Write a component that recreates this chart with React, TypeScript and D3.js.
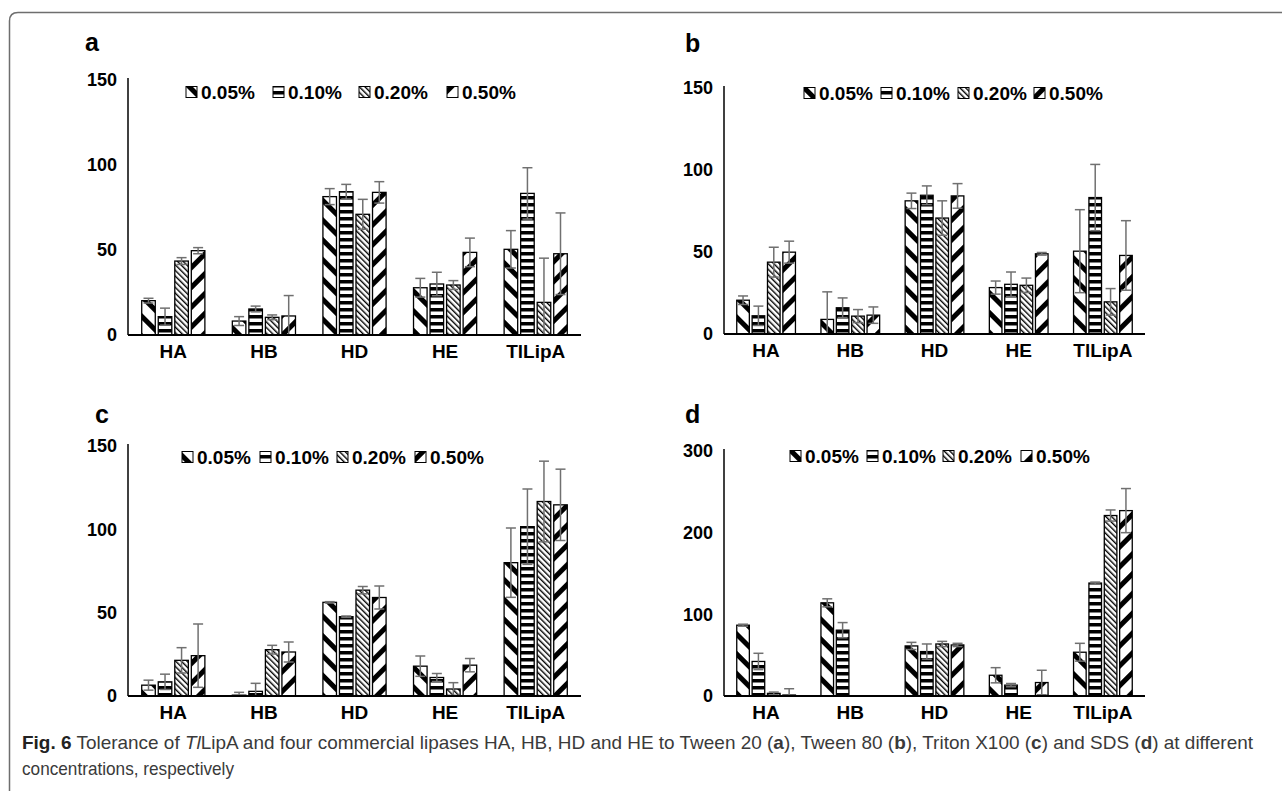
import React from "react";
import * as d3 from "d3";

const categories = ["HA", "HB", "HD", "HE", "TlLipA"];
const seriesNames = ["0.05%", "0.10%", "0.20%", "0.50%"];

// values[category][series]
const tween20Values = [
  [20.2, 10.8, 43.5, 49.6],
  [8.2, 15.3, 10.4, 11.2],
  [81.4, 84.3, 71.0, 83.9],
  [27.8, 30.0, 29.4, 48.6],
  [50.4, 83.3, 19.2, 47.8],
];
const tween20Errors = [
  [1.4, 5.0, 2.0, 1.8],
  [2.6, 1.7, 1.4, 12.0],
  [4.7, 4.3, 8.8, 6.3],
  [5.5, 6.9, 2.6, 8.4],
  [11.0, 15.1, 26.0, 24.0],
];
const tween80Values = [
  [20.6, 11.1, 43.8, 49.9],
  [8.9, 16.0, 10.9, 11.5],
  [81.2, 84.6, 70.7, 84.2],
  [28.3, 30.3, 29.7, 48.9],
  [50.5, 83.2, 19.6, 47.9],
];
const tween80Errors = [
  [2.6, 5.9, 9.1, 6.7],
  [16.8, 6.0, 4.0, 5.0],
  [4.7, 5.7, 10.5, 7.5],
  [4.0, 7.5, 4.4, 0.8],
  [25.3, 20.2, 8.1, 21.2],
];
const tritonValues = [
  [6.5, 8.5, 21.4, 24.2],
  [0.5, 2.8, 27.8, 26.4],
  [56.2, 47.6, 63.5, 59.1],
  [17.9, 11.1, 4.2, 18.5],
  [80.0, 101.6, 116.7, 114.7],
];
const tritonErrors = [
  [3.0, 4.6, 7.6, 19.0],
  [1.7, 4.8, 2.6, 6.0],
  [0.4, 0.4, 2.2, 6.9],
  [6.1, 2.4, 3.8, 4.0],
  [20.8, 22.6, 24.2, 21.4],
];
const sdsValues = [
  [86.7, 42.3, 3.2, 1.2],
  [114.1, 80.6, 0, 0],
  [61.3, 54.4, 63.7, 62.5],
  [25.4, 13.3, 0, 16.5],
  [53.6, 138.3, 221.0, 227.0],
];
const sdsErrors = [
  [1.2, 10.0, 1.6, 7.7],
  [4.9, 9.3, 0, 0],
  [4.4, 9.3, 3.2, 2.0],
  [9.3, 2.0, 0, 15.0],
  [10.9, 1.2, 6.8, 27.0],
];

const ticks150 = [0, 50, 100, 150];
const ticks300 = [0, 100, 200, 300];

const panels = [
  { key: "a", values: tween20Values, errors: tween20Errors, ticks: ticks150, ax: 128, xEnd: 581, top: 80, base: 335, legendY: 92, legendX: [186, 273, 359, 447], letterX: 85, letterY: 51 },
  { key: "b", values: tween80Values, errors: tween80Errors, ticks: ticks150, ax: 724, xEnd: 1145, top: 88, base: 334, legendY: 93, legendX: [804, 881, 958, 1034], letterX: 685, letterY: 52 },
  { key: "c", values: tritonValues, errors: tritonErrors, ticks: ticks150, ax: 128, xEnd: 581, top: 446, base: 696, legendY: 457, legendX: [182, 260, 337, 415], letterX: 95, letterY: 423 },
  { key: "d", values: sdsValues, errors: sdsErrors, ticks: ticks300, ax: 724, xEnd: 1145, top: 451, base: 696, legendY: 456, legendX: [790, 867, 943, 1021], letterX: 685, letterY: 423 },
];

const patternIds = ["pWideDown", "pHoriz", "pNarrowDown", "pWideUp"];
const BOLD = "'Liberation Sans', Arial, sans-serif";
const NARROW = "'Liberation Sans Narrow', 'Liberation Sans', Arial, sans-serif";

function Panel({ p }: { p: any }) {
  const yMax = p.ticks[p.ticks.length - 1];
  const y = d3.scaleLinear().domain([0, yMax]).range([p.base, p.top]).clamp(true);
  const x0 = d3.scaleBand().domain(categories).range([p.ax, p.xEnd]).paddingInner(0.27).paddingOuter(0.135);
  const x1 = d3.scaleBand().domain(seriesNames).range([0, x0.bandwidth()]).paddingInner(0.18).paddingOuter(0.09);
  const bw = x1.bandwidth();
  const cap = 5;
  return (
    <g>
      <text x={p.letterX} y={p.letterY} fontFamily={BOLD} fontWeight="bold" fontSize={25} fill="#000">{p.key}</text>
      {categories.map((c, ci) =>
        seriesNames.map((s, si) => {
          const v = p.values[ci][si];
          const e = p.errors[ci][si];
          if (v === 0 && e === 0) return null;
          const bx = (x0(c) as number) + (x1(s) as number);
          const cx = bx + bw / 2;
          const yt = y(v);
          const yHi = y(v + e);
          const yLo = y(v - e);
          return (
            <g key={c + s}>
              <rect x={bx} y={yt} width={bw} height={p.base - yt} fill={`url(#${patternIds[si]})`} stroke="#000" strokeWidth={1.3} />
              <g stroke="#707070" strokeWidth={1.5}>
                <line x1={cx} x2={cx} y1={yHi} y2={yLo} />
                <line x1={cx - cap} x2={cx + cap} y1={yHi} y2={yHi} />
                <line x1={cx - cap} x2={cx + cap} y1={yLo} y2={yLo} />
              </g>
            </g>
          );
        })
      )}
      <line x1={p.ax} x2={p.ax} y1={p.base} y2={p.top - 2} stroke="#000" strokeWidth={1.5} />
      <line x1={p.ax} x2={p.xEnd} y1={p.base} y2={p.base} stroke="#000" strokeWidth={2} />
      {p.ticks.map((t: number) => (
        <text key={t} x={p.ax - 11} y={y(t)} dy="0.36em" textAnchor="end" fontFamily={BOLD} fontWeight="bold" fontSize={18} fill="#000">{t}</text>
      ))}
      {categories.map((c) => (
        <text key={c} x={(x0(c) as number) + x0.bandwidth() / 2} y={p.base + 23} textAnchor="middle" fontFamily={NARROW} fontWeight="bold" fontSize={19} fill="#000">{c}</text>
      ))}
      {seriesNames.map((s, si) => (
        <g key={s}>
          <rect x={p.legendX[si]} y={p.legendY - 5.5} width={11} height={11} fill={`url(#${patternIds[si]})`} stroke="#000" strokeWidth={1} />
          <text x={p.legendX[si] + 15} y={p.legendY} dy="0.36em" fontFamily={NARROW} fontWeight="bold" fontSize={19} fill="#000">{s}</text>
        </g>
      ))}
    </g>
  );
}

export default function App() {
  return (
    <svg width={1282} height={791} style={{ position: "absolute", left: 0, top: 0, background: "#fff" }}>
      <defs>
        <pattern id="pWideDown" patternUnits="userSpaceOnUse" width={14} height={14} patternTransform="rotate(-45)">
          <rect width={14} height={14} fill="#fff" />
          <rect width={5} height={14} fill="#000" />
        </pattern>
        <pattern id="pWideUp" patternUnits="userSpaceOnUse" width={14} height={14} patternTransform="rotate(45)">
          <rect width={14} height={14} fill="#fff" />
          <rect width={5} height={14} fill="#000" />
        </pattern>
        <pattern id="pHoriz" patternUnits="userSpaceOnUse" width={7} height={7}>
          <rect width={7} height={7} fill="#fff" />
          <rect width={7} height={3.5} fill="#000" />
        </pattern>
        <pattern id="pNarrowDown" patternUnits="userSpaceOnUse" width={4} height={4} patternTransform="rotate(-45)">
          <rect width={4} height={4} fill="#fff" />
          <rect width={1.4} height={4} fill="#000" />
        </pattern>
      </defs>
      <rect width={1282} height={791} fill="#fff" />
      <path d="M9.5,791 L9.5,21 Q9.5,12.5 18,12.5 L1282,12.5" fill="none" stroke="#6e6e6e" strokeWidth={1.5} />
      {panels.map((p) => (
        <Panel key={p.key} p={p} />
      ))}
      <text x={22} y={749} fontFamily={NARROW} fontSize={19} fill="#3a3a3a" textLength={1231} lengthAdjust="spacingAndGlyphs">
        <tspan fontWeight="bold" fill="#222">Fig. 6</tspan>
        <tspan>{"  Tolerance of "}</tspan>
        <tspan fontStyle="italic">Tl</tspan>
        <tspan>LipA and four commercial lipases HA, HB, HD and HE to Tween 20 (</tspan>
        <tspan fontWeight="bold">a</tspan>
        <tspan>), Tween 80 (</tspan>
        <tspan fontWeight="bold">b</tspan>
        <tspan>), Triton X100 (</tspan>
        <tspan fontWeight="bold">c</tspan>
        <tspan>) and SDS (</tspan>
        <tspan fontWeight="bold">d</tspan>
        <tspan>) at different</tspan>
      </text>
      <text x={22} y={775} fontFamily={NARROW} fontSize={19} fill="#3a3a3a" textLength={212} lengthAdjust="spacingAndGlyphs">concentrations, respectively</text>
    </svg>
  );
}
